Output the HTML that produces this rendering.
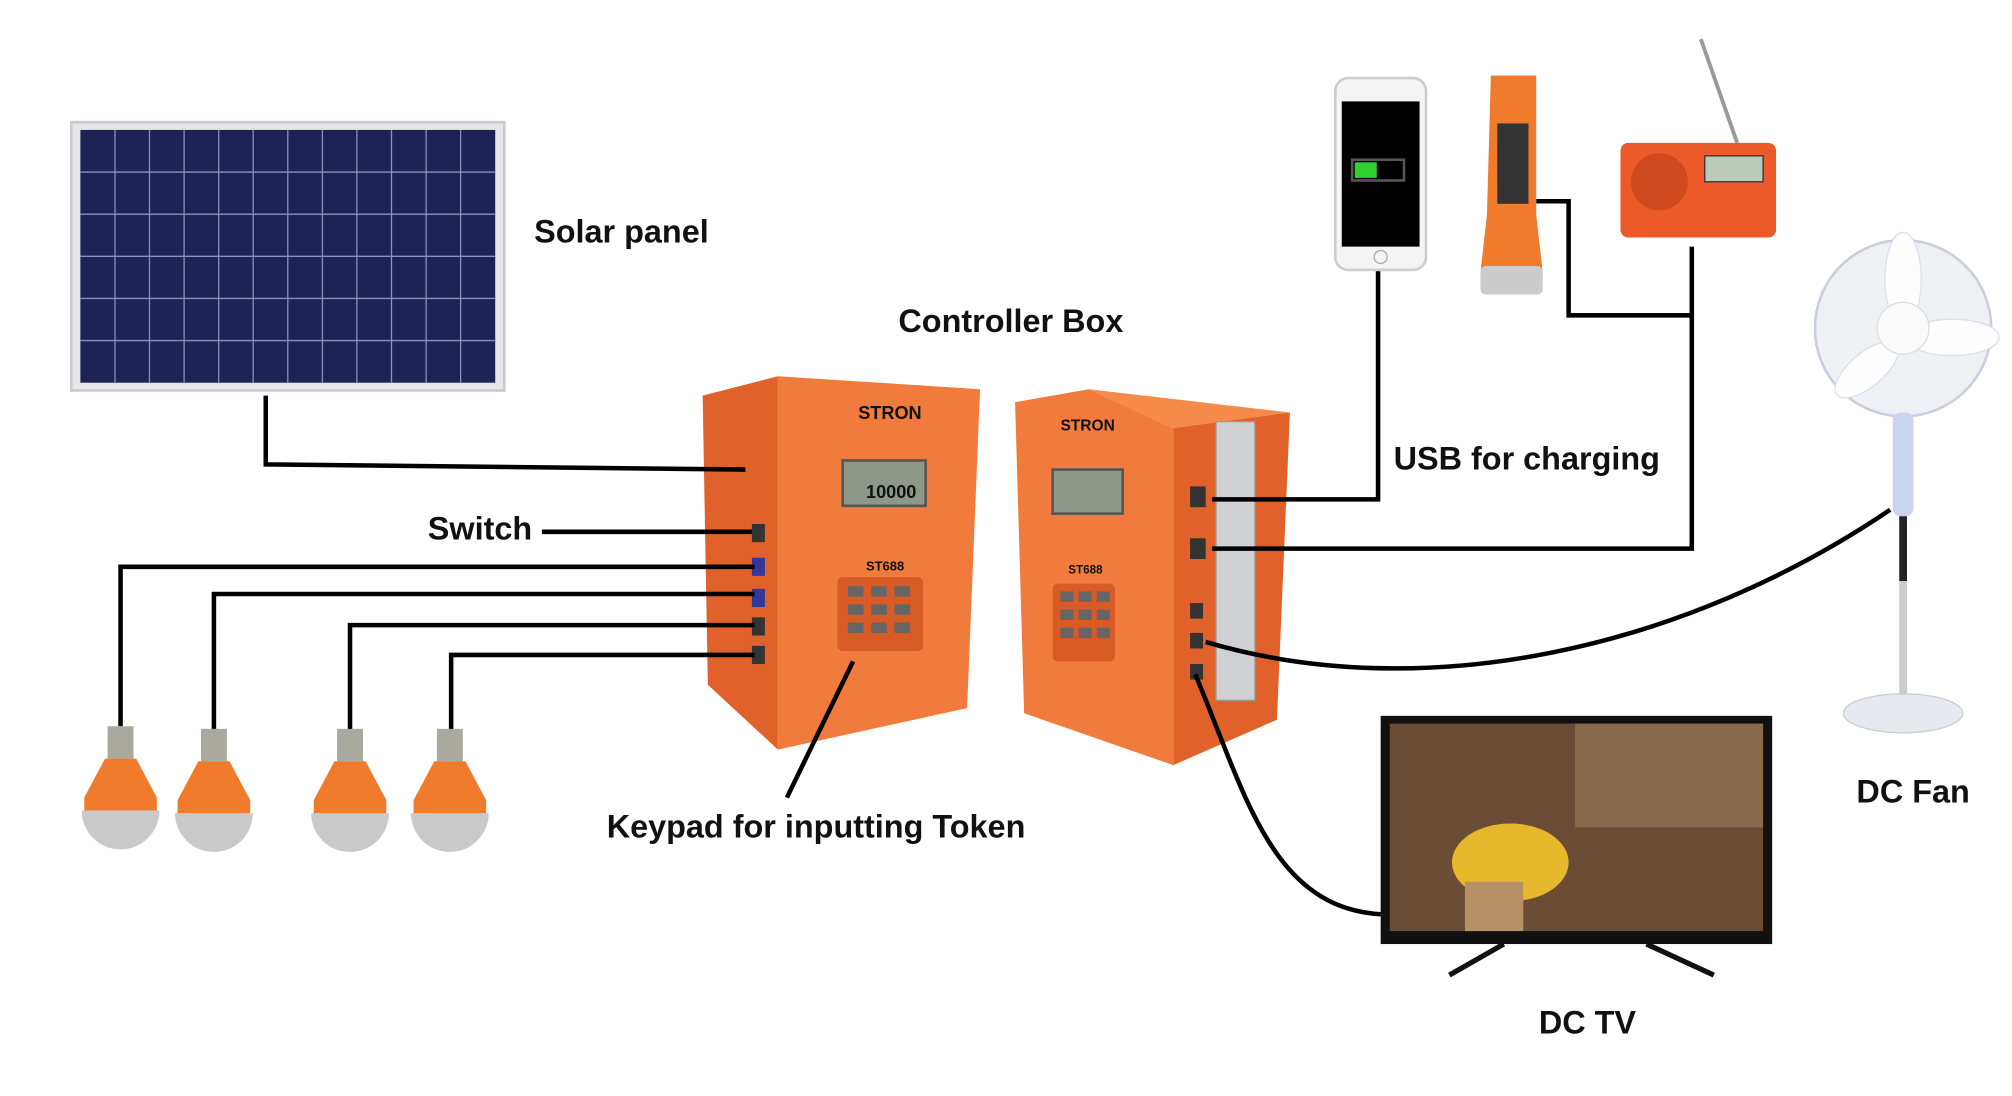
<!DOCTYPE html>
<html><head><meta charset="utf-8"><style>
html,body{margin:0;padding:0;background:#fff;}
svg{display:block;}
text{font-family:"Liberation Sans",sans-serif;font-weight:bold;fill:#111;}
</style></head><body>
<svg width="2012" height="1096" viewBox="0 0 1552 845" xmlns="http://www.w3.org/2000/svg">
<rect width="1552" height="845" fill="#fff"/>
<!-- Solar panel -->
<rect x="55" y="94" width="334" height="207" fill="#e4e6ea" stroke="#c8cacd" stroke-width="2"/>
<rect x="62" y="100" width="320" height="195" fill="#1d2455"/>
<g stroke="#8a90b8" stroke-width="1">
<line x1="88.7" y1="100" x2="88.7" y2="295"/><line x1="115.3" y1="100" x2="115.3" y2="295"/><line x1="142" y1="100" x2="142" y2="295"/><line x1="168.7" y1="100" x2="168.7" y2="295"/><line x1="195.3" y1="100" x2="195.3" y2="295"/><line x1="222" y1="100" x2="222" y2="295"/><line x1="248.7" y1="100" x2="248.7" y2="295"/><line x1="275.3" y1="100" x2="275.3" y2="295"/><line x1="302" y1="100" x2="302" y2="295"/><line x1="328.7" y1="100" x2="328.7" y2="295"/><line x1="355.3" y1="100" x2="355.3" y2="295"/>
<line x1="62" y1="132.5" x2="382" y2="132.5"/><line x1="62" y1="165" x2="382" y2="165"/><line x1="62" y1="197.5" x2="382" y2="197.5"/><line x1="62" y1="230" x2="382" y2="230"/><line x1="62" y1="262.5" x2="382" y2="262.5"/>
</g>
<text x="412" y="187" font-size="25">Solar panel</text>
<text x="693" y="256" font-size="25">Controller Box</text>
<!-- left box -->
<polygon points="542,305 600,290 600,578 546,528" fill="#e0622a"/>
<polygon points="600,290 756,300 746,546 600,578" fill="#f07b3d"/>
<rect x="650" y="355" width="64" height="35" fill="#8e9889" stroke="#555" stroke-width="2"/>
<text x="668" y="384" font-size="14" fill="#333">10000</text>
<text x="662" y="323" font-size="14" fill="#2a3d8f">STRON</text>
<text x="668" y="440" font-size="10" fill="#333">ST688</text>
<rect x="646" y="445" width="66" height="57" rx="4" fill="#d85a24"/>
<g fill="#666"><rect x="654" y="452" width="12" height="8"/><rect x="672" y="452" width="12" height="8"/><rect x="690" y="452" width="12" height="8"/><rect x="654" y="466" width="12" height="8"/><rect x="672" y="466" width="12" height="8"/><rect x="690" y="466" width="12" height="8"/><rect x="654" y="480" width="12" height="8"/><rect x="672" y="480" width="12" height="8"/><rect x="690" y="480" width="12" height="8"/></g>
<g fill="#333"><rect x="580" y="404" width="10" height="14"/><rect x="580" y="430" width="10" height="14" fill="#33379a"/><rect x="580" y="454" width="10" height="14" fill="#33379a"/><rect x="580" y="476" width="10" height="14"/><rect x="580" y="498" width="10" height="14"/></g>
<!-- right box -->
<polygon points="783,310 840,300 905,330 905,590 790,550" fill="#f07b3d"/>
<polygon points="840,300 995,318 905,330" fill="#f58a4a"/>
<polygon points="905,330 995,318 985,555 905,590" fill="#e0622a"/>
<rect x="812" y="362" width="54" height="34" fill="#8e9889" stroke="#555" stroke-width="2"/>
<text x="818" y="332" font-size="12" fill="#2a3d8f">STRON</text>
<text x="824" y="442" font-size="9" fill="#333">ST688</text>
<rect x="812" y="450" width="48" height="60" rx="4" fill="#d85a24"/>
<g fill="#666"><rect x="818" y="456" width="10" height="8"/><rect x="832" y="456" width="10" height="8"/><rect x="846" y="456" width="10" height="8"/><rect x="818" y="470" width="10" height="8"/><rect x="832" y="470" width="10" height="8"/><rect x="846" y="470" width="10" height="8"/><rect x="818" y="484" width="10" height="8"/><rect x="832" y="484" width="10" height="8"/><rect x="846" y="484" width="10" height="8"/></g>
<rect x="938" y="325" width="30" height="215" fill="#cfd1d3" stroke="#999"/>
<g fill="#333"><rect x="918" y="375" width="12" height="16"/><rect x="918" y="415" width="12" height="16"/><rect x="918" y="465" width="10" height="12"/><rect x="918" y="488" width="10" height="12"/><rect x="918" y="512" width="10" height="12"/></g>
<!-- wires (on top) -->
<g fill="none" stroke="#000" stroke-width="3.5">
<polyline points="205,305 205,358 575,362"/>
<line x1="418" y1="410" x2="580" y2="410"/>
<polyline points="93,560 93,437 582,437"/>
<polyline points="165,565 165,458 582,458"/>
<polyline points="270,565 270,482 582,482"/>
<polyline points="348,565 348,505 582,505"/>
<polyline points="1063,208 1063,385 935,385"/>
<polyline points="1185,155 1210,155 1210,243 1305,243"/>
<polyline points="1305,190 1305,423 935,423"/>
<path d="M930,495 C1100,545 1300,500 1458,393"/>
<path d="M922,520 C960,610 980,700 1065,705"/>
<line x1="658" y1="510" x2="607" y2="615"/>
</g>
<!-- bulbs -->
<g>
<g transform="translate(93,0)"><rect x="-10" y="560" width="20" height="25" fill="#a9a9a0"/><path d="M-12,585 L12,585 L28,615 L28,628 L-28,628 L-28,615 Z" fill="#f07b2d"/><path d="M-30,625 L30,625 A30,30 0 0 1 -30,625 Z" fill="#c9c9c9"/></g>
<g transform="translate(165,0)"><rect x="-10" y="562" width="20" height="25" fill="#a9a9a0"/><path d="M-12,587 L12,587 L28,617 L28,630 L-28,630 L-28,617 Z" fill="#f07b2d"/><path d="M-30,627 L30,627 A30,30 0 0 1 -30,627 Z" fill="#c9c9c9"/></g>
<g transform="translate(270,0)"><rect x="-10" y="562" width="20" height="25" fill="#a9a9a0"/><path d="M-12,587 L12,587 L28,617 L28,630 L-28,630 L-28,617 Z" fill="#f07b2d"/><path d="M-30,627 L30,627 A30,30 0 0 1 -30,627 Z" fill="#c9c9c9"/></g>
<g transform="translate(347,0)"><rect x="-10" y="562" width="20" height="25" fill="#a9a9a0"/><path d="M-12,587 L12,587 L28,617 L28,630 L-28,630 L-28,617 Z" fill="#f07b2d"/><path d="M-30,627 L30,627 A30,30 0 0 1 -30,627 Z" fill="#c9c9c9"/></g>
</g>
<text x="330" y="416" font-size="25">Switch</text>
<text x="1075" y="362" font-size="25">USB for charging</text>
<text x="468" y="646" font-size="25">Keypad for inputting Token</text>
<text x="1187" y="797" font-size="25">DC TV</text>
<text x="1432" y="619" font-size="25">DC Fan</text>
<!-- phone -->
<rect x="1030" y="60" width="70" height="148" rx="10" fill="#f4f4f4" stroke="#ccc" stroke-width="2"/>
<rect x="1035" y="78" width="60" height="112" fill="#000"/>
<rect x="1043" y="123" width="40" height="16" fill="none" stroke="#555" stroke-width="2"/>
<rect x="1045" y="125" width="17" height="12" fill="#2fd12f"/>
<circle cx="1065" cy="198" r="5" fill="none" stroke="#aaa"/>
<!-- flashlight -->
<path d="M1150,58 L1185,58 L1185,165 L1190,210 L1142,210 L1147,165 Z" fill="#f07b2d"/>
<rect x="1155" y="95" width="24" height="62" fill="#333"/>
<rect x="1142" y="205" width="48" height="22" rx="4" fill="#ccc"/>
<!-- radio -->
<line x1="1340" y1="110" x2="1312" y2="30" stroke="#999" stroke-width="3"/>
<rect x="1250" y="110" width="120" height="73" rx="6" fill="#ec5a2a"/>
<circle cx="1280" cy="140" r="22" fill="#d04a20"/>
<rect x="1315" y="120" width="45" height="20" fill="#bcc8b8" stroke="#333"/>
<!-- fan -->
<circle cx="1468" cy="253" r="68" fill="#eef1f4" stroke="#ccd" stroke-width="2"/>
<g fill="#fdfdfd" stroke="#dde">
<ellipse cx="1468" cy="215" rx="14" ry="36"/>
<ellipse cx="1506" cy="260" rx="36" ry="14"/>
<ellipse cx="1440" cy="285" rx="30" ry="13" transform="rotate(-40 1440 285)"/>
</g>
<circle cx="1468" cy="253" r="20" fill="#fafafa" stroke="#ddd"/>
<rect x="1460" y="318" width="16" height="80" rx="6" fill="#c9d4ee"/>
<rect x="1465" y="398" width="6" height="50" fill="#222"/>
<rect x="1465" y="448" width="6" height="90" fill="#ccc"/>
<ellipse cx="1468" cy="550" rx="46" ry="15" fill="#e6eaef" stroke="#ccc"/>
<!-- TV -->
<rect x="1065" y="552" width="302" height="176" fill="#111"/>
<rect x="1072" y="558" width="288" height="160" fill="#6b4d35"/>
<rect x="1215" y="558" width="145" height="80" fill="#8a6a4c"/>
<ellipse cx="1165" cy="665" rx="45" ry="30" fill="#e6b82c"/>
<rect x="1130" y="680" width="45" height="38" fill="#b89065"/>
<line x1="1160" y1="728" x2="1118" y2="752" stroke="#111" stroke-width="4"/>
<line x1="1270" y1="728" x2="1322" y2="752" stroke="#111" stroke-width="4"/>
</svg>
</body></html>
